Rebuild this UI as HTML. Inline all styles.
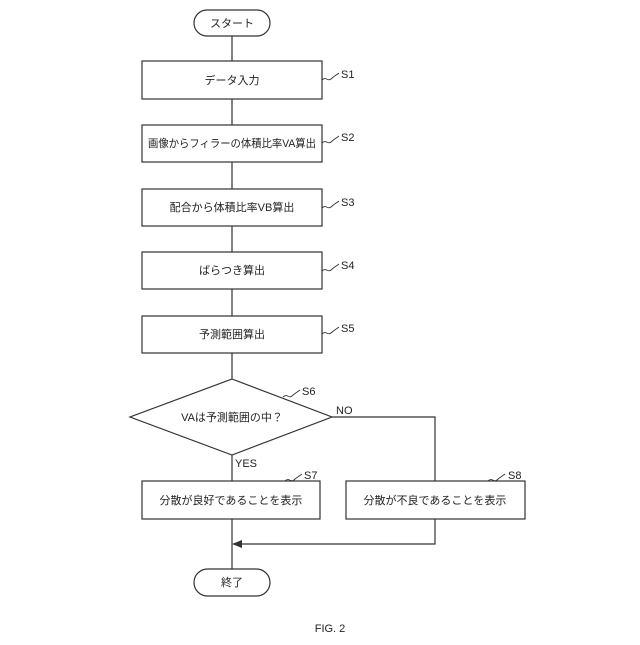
<!DOCTYPE html>
<html><head><meta charset="utf-8"><style>body{margin:0;background:#fff}</style></head><body>
<svg width="640" height="640" viewBox="0 0 640 640" xmlns="http://www.w3.org/2000/svg" font-family="'Liberation Sans','Noto Sans CJK JP',sans-serif" font-size="11" fill="none" stroke="#333" stroke-width="1.2">
<rect x="194" y="10" width="76" height="26" rx="13"/>
<rect x="142" y="61" width="180" height="38"/>
<rect x="142" y="125" width="180" height="37"/>
<rect x="142" y="189" width="180" height="37"/>
<rect x="142" y="252" width="180" height="37"/>
<rect x="142" y="316" width="180" height="37"/>
<polygon points="232,379 332,417 232,455 130,417"/>
<rect x="142" y="481" width="178" height="38"/>
<rect x="346" y="481" width="179" height="38"/>
<rect x="194" y="569" width="76" height="27" rx="13.5"/>
<path d="M232 36V61M232 99V125M232 162V189M232 226V252M232 289V316M232 353V379M232 455V481M232 519V569M332 417H435V481M435 519V544H240"/>
<polygon points="232,544 242,540 242,548" fill="#333" stroke="none"/>
<g stroke-width="0.9">
<path d="M322 80c4-4 6 2 9-1s4-3 8-6"/>
<path d="M322 143c4-4 6 2 9-1s4-3 8-6"/>
<path d="M322 208c4-4 6 2 9-1s4-3 8-6"/>
<path d="M322 271c4-4 6 2 9-1s4-3 8-6"/>
<path d="M322 334c4-4 6 2 9-1s4-3 8-6"/>
<path d="M283 397c4-4 6 2 9-1s4-3 8-6"/>
<path d="M285 481c4-4 6 2 9-1s4-3 8-6"/>
<path d="M488 481c4-4 6 2 9-1s4-3 8-6"/>
</g>
<g fill="#222" stroke="none" text-anchor="middle">
<text x="232" y="27">スタート</text>
<text x="232" y="84">データ入力</text>
<text x="232" y="147" textLength="168" lengthAdjust="spacingAndGlyphs">画像からフィラーの体積比率VA算出</text>
<text x="232" y="211">配合から体積比率VB算出</text>
<text x="232" y="274">ばらつき算出</text>
<text x="232" y="338">予測範囲算出</text>
<text x="232" y="421">VAは予測範囲の中？</text>
<text x="231" y="504">分散が良好であることを表示</text>
<text x="435" y="504">分散が不良であることを表示</text>
<text x="232" y="586">終了</text>
<text x="330" y="632">FIG. 2</text>
</g>
<g fill="#222" stroke="none">
<text x="341" y="78">S1</text>
<text x="341" y="141">S2</text>
<text x="341" y="206">S3</text>
<text x="341" y="269">S4</text>
<text x="341" y="332">S5</text>
<text x="302" y="395">S6</text>
<text x="336" y="414">NO</text>
<text x="235" y="467">YES</text>
<text x="304" y="479">S7</text>
<text x="508" y="479">S8</text>
</g>
</svg>
</body></html>
